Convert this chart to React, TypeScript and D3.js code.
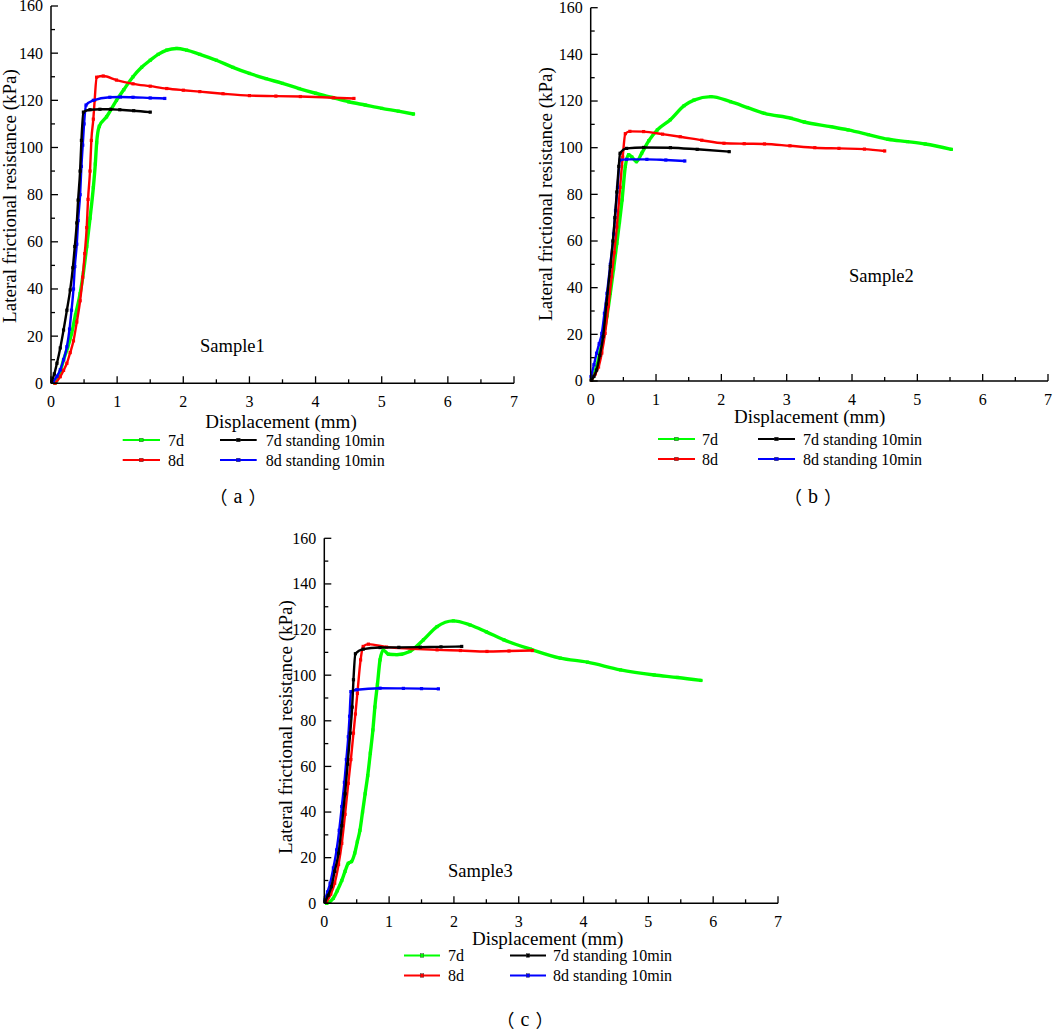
import React from "react";
import * as d3 from "d3";

type Pt = [number, number];

// ---------- data (x = displacement mm, y = lateral frictional resistance kPa) ----------
const a7d: Pt[] = [[0.06,0],[0.09,1.4],[0.14,5],[0.19,10],[0.25,15],[0.31,21],[0.37,29],[0.44,38],[0.49,47],[0.54,58],[0.59,70],[0.64,83],[0.67,93],[0.69,102],[0.73,109],[0.84,113],[0.99,120],[1.1,124.5],[1.24,130],[1.37,134],[1.5,137],[1.62,139.5],[1.75,141.3],[1.9,142],[2.05,141.3],[2.25,139.5],[2.5,137],[2.75,134],[3.0,131.4],[3.25,129.2],[3.5,127.2],[3.75,125],[4.0,123],[4.25,121.2],[4.5,119.4],[4.75,118],[5.0,116.6],[5.25,115.4],[5.48,114.2]];
const a8d: Pt[] = [[0.06,0],[0.14,2.8],[0.19,5.5],[0.24,8.5],[0.29,13],[0.34,18],[0.39,26],[0.44,35],[0.48,45],[0.51,55],[0.54,66],[0.56,78],[0.59,90],[0.61,103],[0.64,112],[0.66,120],[0.69,129.8],[0.79,130.3],[0.99,128.6],[1.24,127],[1.5,126],[1.75,125],[2.0,124.3],[2.25,123.7],[2.6,122.8],[3.0,122],[3.4,121.8],[3.77,121.6],[4.27,121.1],[4.58,120.8]];
const a7dStand: Pt[] = [[0.01,0.7],[0.05,4],[0.09,8.5],[0.14,15],[0.19,22.6],[0.24,31],[0.29,39.6],[0.33,49],[0.36,58],[0.39,68],[0.41,77.7],[0.44,90],[0.46,103],[0.49,115],[0.59,116],[0.74,116.2],[0.9,116.2],[1.04,116],[1.25,115.6],[1.5,115]];
const a8dStand: Pt[] = [[0.035,0.7],[0.09,3],[0.14,5.7],[0.19,10],[0.24,15.5],[0.28,23],[0.31,31],[0.34,40],[0.36,49.5],[0.39,59],[0.41,69],[0.44,80],[0.46,92],[0.48,101],[0.5,110],[0.53,118],[0.64,120],[0.89,121.3],[1.05,121.4],[1.24,121.3],[1.5,121],[1.72,120.8]];

const b7d: Pt[] = [[0.015,0.4],[0.09,6],[0.14,12],[0.19,19],[0.25,28],[0.3,37.6],[0.35,48],[0.4,59],[0.44,68],[0.48,77.6],[0.53,92],[0.58,97],[0.63,96],[0.7,94],[0.78,97.6],[0.89,103],[1.02,107.6],[1.22,112],[1.43,118],[1.58,120.4],[1.84,121.9],[2.14,119.7],[2.4,117.2],[2.66,114.7],[3.07,112.6],[3.27,111],[3.68,109],[3.94,107.6],[4.25,105.6],[4.55,103.6],[4.85,102.6],[5.12,101.6],[5.52,99.3]];
const b8d: Pt[] = [[0.015,0.4],[0.07,3],[0.12,6],[0.17,12],[0.22,20.4],[0.27,32],[0.32,44.7],[0.36,55],[0.4,66],[0.45,83],[0.49,96],[0.53,106],[0.6,107],[0.81,106.9],[1.1,105.8],[1.37,104.7],[1.7,103.2],[2.04,101.9],[2.35,101.7],[2.66,101.6],[3.05,100.8],[3.43,100],[3.8,99.7],[4.19,99.4],[4.5,98.6]];
const b7dStand: Pt[] = [[0.005,0.4],[0.05,2],[0.09,4.7],[0.14,11],[0.19,19],[0.24,33],[0.3,49],[0.34,60],[0.37,70],[0.4,81],[0.43,92],[0.45,97.6],[0.55,99.7],[0.81,100.1],[1.22,100],[1.63,99.3],[2.12,98.3]];
const b8dStand: Pt[] = [[0.005,1.9],[0.05,7],[0.09,11.9],[0.13,16],[0.17,20.4],[0.21,29],[0.25,37.6],[0.3,50],[0.35,63],[0.38,73],[0.41,83],[0.45,94.7],[0.55,95],[0.86,95],[1.15,94.7],[1.44,94.3]];

const c7d: Pt[] = [[0.036,0],[0.14,2.2],[0.2,5.5],[0.27,10],[0.32,14],[0.37,17.5],[0.42,18.3],[0.47,22],[0.51,27],[0.55,32],[0.59,40],[0.63,48],[0.67,56],[0.71,65.8],[0.75,76],[0.78,86],[0.82,96],[0.86,106.7],[0.91,111],[0.99,109.2],[1.12,109],[1.32,110.4],[1.53,115.5],[1.74,121.3],[1.99,123.8],[2.25,122],[2.5,119],[2.77,115.5],[3.18,111.4],[3.64,107.5],[4.06,105.7],[4.57,102.3],[5.09,100.1],[5.45,99],[5.81,97.7]];
const c8d: Pt[] = [[0.036,0.7],[0.1,4],[0.16,8.8],[0.22,17],[0.27,26.3],[0.32,39],[0.37,52.6],[0.41,63],[0.45,74.6],[0.48,83],[0.51,92],[0.56,106.7],[0.6,112.6],[0.68,113.6],[0.96,112.3],[1.35,111.6],[1.74,111.1],[2.1,110.8],[2.51,110.4],[2.85,110.6],[3.21,110.8]];
const c7dStand: Pt[] = [[0.01,0.7],[0.06,3.5],[0.11,7.3],[0.16,14],[0.22,22],[0.27,34],[0.32,48],[0.36,61],[0.4,74.6],[0.43,86],[0.45,98],[0.48,109.4],[0.6,111.4],[0.86,112.1],[1.15,112.2],[1.48,112.3],[1.8,112.4],[2.12,112.6]];
const c8dStand: Pt[] = [[0.01,1.5],[0.05,5],[0.09,8.8],[0.14,15.5],[0.19,23.4],[0.23,32],[0.27,42.4],[0.31,53],[0.34,63],[0.37,73],[0.39,82],[0.41,92.8],[0.5,93.6],[0.86,94.3],[1.22,94.2],[1.5,94.1],[1.76,94]];

const xTickLabels = ["0", "1", "2", "3", "4", "5", "6", "7"];
const yTickLabels = ["0", "20", "40", "60", "80", "100", "120", "140", "160"];
const seriesNames = ["7d", "8d", "7d standing 10min", "8d standing 10min"];
const seriesColors = ["#00ff00", "#ff0000", "#000000", "#0000ff"];
const sampleNames = ["Sample1", "Sample2", "Sample3"];
const captionLetters = ["a", "b", "c"];

const FONT = "'Liberation Serif', 'Times New Roman', serif";
const CJK = "'Noto Sans CJK SC', 'Noto Sans CJK JP', sans-serif";

interface PanelCfg {
  x0: number; x1: number; y0: number; y1: number;
  tickBase: number;
  yTitle: [number, number];
  xTitle: [number, number];
  rows: [number, number];
  col1: [number, number, number];
  col2: [number, number, number];
  caption: [number, number];
  sample: [number, number];
}

const panels: PanelCfg[] = [
  { x0: 51, x1: 514, y0: 383.3, y1: 6, tickBase: 407, yTitle: [9, 196], xTitle: [281, 421], rows: [440, 460], col1: [122.7, 160, 168], col2: [220, 256.7, 265.7], caption: [238, 496], sample: [200, 352] },
  { x0: 590.7, x1: 1048, y0: 381, y1: 7.7, tickBase: 404.5, yTitle: [545.5, 194], xTitle: [809.7, 416], rows: [439, 459], col1: [658, 695, 702], col2: [758, 795, 803], caption: [813, 496], sample: [849, 282] },
  { x0: 324.3, x1: 778, y0: 903.3, y1: 538.3, tickBase: 926.5, yTitle: [285, 727], xTitle: [547.7, 938.5], rows: [955.5, 975.5], col1: [404, 440, 448], col2: [510, 546, 553], caption: [525, 1019], sample: [448, 877] },
];

const panelData: Pt[][][] = [
  [a7d, a8d, a7dStand, a8dStand],
  [b7d, b8d, b7dStand, b8dStand],
  [c7d, c8d, c7dStand, c8dStand],
];

const widths = [3.4, 2.4, 2.4, 2.4];

function Panel({ cfg, data, idx }: { cfg: PanelCfg; data: Pt[][]; idx: number }) {
  const x = d3.scaleLinear().domain([0, 7]).range([cfg.x0, cfg.x1]);
  const y = d3.scaleLinear().domain([0, 160]).range([cfg.y0, cfg.y1]);
  const line = d3.line<Pt>().x((d) => x(d[0])).y((d) => y(d[1])).curve(d3.curveMonotoneX);
  const xMinor = d3.range(0, 7.001, 0.5);
  const yMinor = d3.range(0, 160.001, 10);
  const order = [0, 1, 3, 2];
  return (
    <g>
      {order.map((si) => (
        <g key={si}>
          <path d={line(data[si]) || ""} fill="none" stroke={seriesColors[si]} strokeWidth={widths[si]} strokeLinejoin="round" strokeLinecap="round" />
          {data[si].map((p, k) => (
            <rect key={k} x={x(p[0]) - 1.6} y={y(p[1]) - 1.6} width={3.2} height={3.2} fill={seriesColors[si]} />
          ))}
        </g>
      ))}
      <line x1={cfg.x0} x2={cfg.x1} y1={cfg.y0} y2={cfg.y0} stroke="#000" strokeWidth={1.5} />
      <line x1={cfg.x0} x2={cfg.x0} y1={cfg.y0} y2={cfg.y1} stroke="#000" strokeWidth={1.5} />
      {xMinor.map((v) => {
        const major = Math.abs(v - Math.round(v)) < 1e-6;
        return <line key={"xt" + v} x1={x(v)} x2={x(v)} y1={cfg.y0} y2={cfg.y0 - (major ? 7 : 4)} stroke="#000" strokeWidth={1.3} />;
      })}
      {yMinor.map((v) => {
        const major = v % 20 === 0;
        return <line key={"yt" + v} x1={cfg.x0} x2={cfg.x0 + (major ? 7 : 4)} y1={y(v)} y2={y(v)} stroke="#000" strokeWidth={1.3} />;
      })}
      {xTickLabels.map((t) => (
        <text key={"xl" + t} x={x(+t)} y={cfg.tickBase} textAnchor="middle" fontSize={16} fontFamily={FONT}>{t}</text>
      ))}
      {yTickLabels.map((t) => (
        <text key={"yl" + t} x={cfg.x0 - 8} y={y(+t)} dy="0.34em" textAnchor="end" fontSize={16} fontFamily={FONT}>{t}</text>
      ))}
      <text transform={`translate(${cfg.yTitle[0]},${cfg.yTitle[1]}) rotate(-90)`} textAnchor="middle" dominantBaseline="central" fontSize={19} fontFamily={FONT}>Lateral frictional resistance (kPa)</text>
      <text x={cfg.xTitle[0]} y={cfg.xTitle[1]} textAnchor="middle" dominantBaseline="central" fontSize={19} fontFamily={FONT}>Displacement (mm)</text>
      <text x={cfg.sample[0]} y={cfg.sample[1]} fontSize={18.5} fontFamily={FONT}>{sampleNames[idx]}</text>
      {seriesNames.map((name, si) => {
        const col = si < 2 ? cfg.col1 : cfg.col2;
        const row = cfg.rows[si % 2];
        const mid = (col[0] + col[1]) / 2;
        return (
          <g key={"lg" + si}>
            <line x1={col[0]} x2={col[1]} y1={row} y2={row} stroke={seriesColors[si]} strokeWidth={2} />
            <rect x={mid - 1.8} y={row - 1.8} width={3.6} height={3.6} fill={seriesColors[si]} stroke="#333" strokeWidth={0.4} />
            <text x={col[2]} y={row} dominantBaseline="central" fontSize={16} fontFamily={FONT}>{name}</text>
          </g>
        );
      })}
      <text x={cfg.caption[0]} y={cfg.caption[1]} textAnchor="middle" dominantBaseline="central" fontSize={18}>
        <tspan fontFamily={CJK}>（</tspan>
        <tspan fontFamily={FONT} fontSize={20} dx={6}>{captionLetters[idx]}</tspan>
        <tspan fontFamily={CJK} dx={6}>）</tspan>
      </text>
    </g>
  );
}

export default function App() {
  return (
    <svg width={1059} height={1032} style={{ position: "absolute", left: 0, top: 0, background: "#fff" }}>
      <rect x={0} y={0} width={1059} height={1032} fill="#fff" />
      {panels.map((p, i) => (
        <Panel key={i} cfg={p} data={panelData[i]} idx={i} />
      ))}
    </svg>
  );
}
